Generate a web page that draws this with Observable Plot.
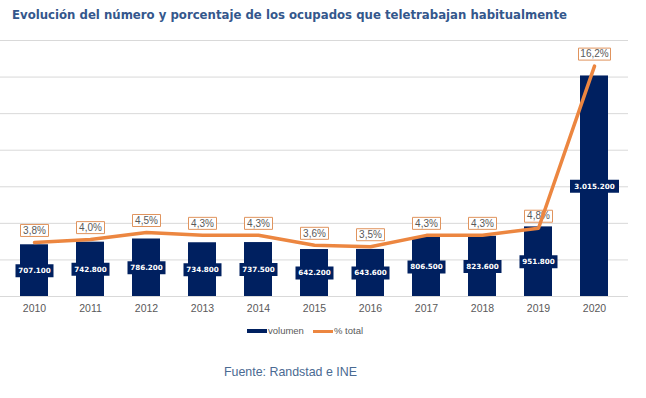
<!DOCTYPE html>
<html><head><meta charset="utf-8">
<script src="https://cdn.jsdelivr.net/npm/d3@7"></script>
<script src="https://cdn.jsdelivr.net/npm/@observablehq/plot@0.6"></script>
<style>
body{margin:0;background:#fff;}
#wrap{position:relative;width:646px;height:398px;overflow:hidden;background:#fff;}
#title{position:absolute;left:12px;top:9px;font-family:"DejaVu Sans",sans-serif;font-weight:bold;font-size:12.5px;line-height:1;color:#34578c;white-space:nowrap;transform-origin:0 0;}
#chart{position:absolute;left:0;top:30px;}
#legend{position:absolute;left:0;top:324px;width:646px;height:14px;font-family:"Liberation Sans",Arial,sans-serif;font-size:9.5px;color:#595959;}
.lg{position:absolute;top:0;line-height:14px;}
.sw{position:absolute;top:5px;width:20px;height:4px;}
#caption{position:absolute;left:224px;top:365px;font-family:"Liberation Sans",Arial,sans-serif;font-size:12.4px;color:#4a6a92;white-space:nowrap;}
</style></head>
<body>
<div id="wrap">
  <div id="title">Evolución del número y porcentaje de los ocupados que teletrabajan habitualmente</div>
  <div id="chart"></div>
  <div id="legend">
    <div class="sw" style="left:247px;background:#002060"></div>
    <div class="lg" style="left:268px">volumen</div>
    <div class="sw" style="left:313px;background:#EC8640;height:3px;top:5.5px"></div>
    <div class="lg" style="left:334px">% total</div>
  </div>
  <div id="caption">Fuente: Randstad e INE</div>
</div>
<script>
const years = ["2010","2011","2012","2013","2014","2015","2016","2017","2018","2019","2020"];
const volumen = [707100, 742800, 786200, 734800, 737500, 642200, 643600, 806500, 823600, 951800, 3015200];
const pctTotal = [3.8, 4.0, 4.5, 4.3, 4.3, 3.6, 3.5, 4.3, 4.3, 4.8, 16.2];
const yTicks = [0, 500000, 1000000, 1500000, 2000000, 2500000, 3000000, 3500000];
const yMax = 3500000;
const pctMax = 18;

const fmtVol = v => d3.format(",")(v).replace(/,/g, ".");
const fmtPct = v => v.toFixed(1).replace(".", ",") + "%";

const data = years.map((y, i) => ({
  year: y,
  vol: volumen[i],
  pct: pctTotal[i],
  pctY: pctTotal[i] / pctMax * yMax,
  volLabel: fmtVol(volumen[i]),
  pctLabel: fmtPct(pctTotal[i])
}));

const rectSymbol = (w, h) => ({draw(ctx) { ctx.rect(-w / 2, -h / 2, w, h); }});
const short = d => d.volLabel.length <= 7;
const shortP = d => d.pctLabel.length <= 4;

const chart = Plot.plot({
  width: 646,
  height: 292,
  marginLeft: 0,
  marginRight: 18,
  marginTop: 10,
  marginBottom: 26,
  x: {domain: years, paddingInner: 0.5, paddingOuter: 0.26, label: null},
  y: {domain: [0, yMax], axis: null},
  marks: [
    Plot.ruleY(yTicks, {stroke: "#d9d9d9", strokeWidth: 1}),
    Plot.barY(data, {x: "year", y: "vol", fill: "#002060"}),
    Plot.dot(data.filter(short), {x: "year", y: d => d.vol / 2, symbol: rectSymbol(38, 13), fill: "#002060", stroke: "none"}),
    Plot.dot(data.filter(d => !short(d)), {x: "year", y: d => d.vol / 2, symbol: rectSymbol(49, 13), fill: "#002060", stroke: "none"}),
    Plot.text(data, {x: "year", y: d => d.vol / 2, text: "volLabel", fill: "white", fontWeight: "bold", fontSize: 7.2, fontFamily: "DejaVu Sans"}),
    Plot.dot(data.filter(shortP), {x: "year", y: "pctY", dy: -12, symbol: rectSymbol(28, 12), fill: "white", stroke: "#E0945E", strokeWidth: 1}),
    Plot.dot(data.filter(d => !shortP(d)), {x: "year", y: "pctY", dy: -12, symbol: rectSymbol(32, 12), fill: "white", stroke: "#E0945E", strokeWidth: 1}),
    Plot.text(data, {x: "year", y: "pctY", dy: -12, text: "pctLabel", fill: "#595959", fontSize: 10, fontFamily: "Liberation Sans"}),
    Plot.line(data, {x: "year", y: "pctY", stroke: "#EC8640", strokeWidth: 3.5}),
    Plot.axisX({tickSize: 0, tickPadding: 8, fontSize: 10.5, fontFamily: "Liberation Sans", color: "#595959", label: null})
  ]
});
document.getElementById("chart").appendChild(chart);

const t = document.getElementById("title");
const w = t.getBoundingClientRect().width;
t.style.transform = `scaleX(${555 / w})`;
</script>
</body></html>
